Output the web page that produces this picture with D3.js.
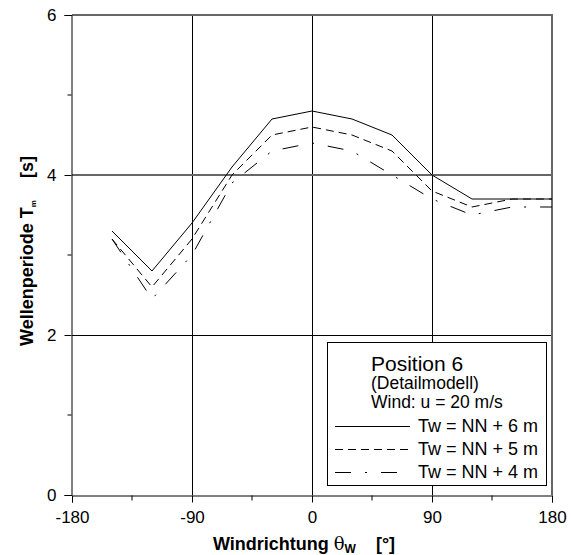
<!DOCTYPE html>
<html>
<head>
<meta charset="utf-8">
<script src="https://cdn.jsdelivr.net/npm/d3@7"></script>
<style>
  body { margin: 0; background: white; }
  svg { font-family: "Liberation Sans", Arial, sans-serif; }
  .line { fill: none; stroke: black; stroke-width: 1; }
</style>
</head>
<body>
<svg></svg>
<script>
const margins = { top: 15, bottom: 60, left: 72, right: 22 }
const width = 480
const height = 480

const directions = [-150, -120, -90, -60, -30, 0, 30, 60, 90, 120, 150, 180]
const tw6 = [3.3, 2.8, 3.4, 4.1, 4.7, 4.8, 4.7, 4.5, 4.0, 3.7, 3.7, 3.7]
const tw5 = [3.2, 2.6, 3.2, 4.0, 4.5, 4.6, 4.5, 4.3, 3.8, 3.6, 3.7, 3.7]
const tw4 = [3.2, 2.45, 3.0, 3.9, 4.3, 4.4, 4.3, 4.0, 3.7, 3.5, 3.6, 3.6]
const seriesNames = ["Tw = NN + 6 m", "Tw = NN + 5 m", "Tw = NN + 4 m"]
const dashes = [null, "8,5", "16,14,2,14"]

const xTicks = [-180, -90, 0, 90, 180]
const xMinor = [-135, -45, 45, 135]
const yTicks = [0, 2, 4, 6]
const yMinor = [1, 3, 5]

let svg = d3.select("svg")
  .attr("width", 574)
  .attr("height", 555)

let x_scale = d3.scaleLinear([-180, 180], [margins.left, margins.left + width])
let y_scale = d3.scaleLinear([0, 6], [margins.top + height, margins.top])

// grid
let grid = svg.append("g")
grid.selectAll(".vgrid").data([-90, 0, 90]).join("line")
  .attr("x1", d => Math.round(x_scale(d)) + 0.5)
  .attr("x2", d => Math.round(x_scale(d)) + 0.5)
  .attr("y1", y_scale(6))
  .attr("y2", y_scale(0))
  .style("stroke", "black")
grid.selectAll(".hgrid").data([2, 4]).join("line")
  .attr("x1", x_scale(-180))
  .attr("x2", x_scale(180))
  .attr("y1", d => Math.round(y_scale(d)) + (d == 4 ? 0 : 0.5))
  .attr("y2", d => Math.round(y_scale(d)) + (d == 4 ? 0 : 0.5))
  .style("stroke", d => d == 4 ? "#666" : "black")
  .style("stroke-width", d => d == 4 ? 2 : 1)

// frame top / right
svg.append("path")
  .attr("d", `M${x_scale(-180)},${y_scale(6)}H${x_scale(180)}V${y_scale(0)}`)
  .style("fill", "none")
  .style("stroke", "#666")
  .style("stroke-width", 2)

// axes
let xAxis = svg.append("g")
  .attr("transform", `translate(0,${Math.round(y_scale(0)) + 0.5})`)
  .call(d3.axisBottom(x_scale).tickValues(xTicks).tickSize(7).tickPadding(8).tickFormat(d => String(d)))
xAxis.selectAll(".minor").data(xMinor).join("line")
  .attr("x1", d => x_scale(d)).attr("x2", d => x_scale(d))
  .attr("y1", 0).attr("y2", 5)
  .style("stroke", "black")

let yAxis = svg.append("g")
  .attr("transform", `translate(${Math.round(x_scale(-180)) - 0.5},0)`)
  .call(d3.axisLeft(y_scale).tickValues(yTicks).tickSize(7).tickPadding(8).tickFormat(d => String(d)))
yAxis.selectAll(".minor").data(yMinor).join("line")
  .attr("x1", 0).attr("x2", -4)
  .attr("y1", d => y_scale(d)).attr("y2", d => y_scale(d))
  .style("stroke", "black")

svg.selectAll(".domain").style("stroke", "black")
svg.selectAll(".tick text")
  .style("font-family", "Liberation Sans, Arial, sans-serif")
  .style("font-size", "17px")
  .style("fill", "black")

// axis titles
let xTitle = svg.append("text")
  .attr("x", 304)
  .attr("y", 550)
  .attr("text-anchor", "middle")
  .style("font-size", "18px")
  .style("font-weight", "bold")
xTitle.append("tspan").text("Windrichtung ")
xTitle.append("tspan").style("font-weight", "normal").style("font-family", "DejaVu Serif, serif").text("θ")
xTitle.append("tspan").attr("dy", 3).style("font-size", "12px").text("W")
xTitle.append("tspan").attr("dy", -3).attr("dx", 20).text("[°]")

let yTitle = svg.append("text")
  .attr("transform", "translate(33,251) rotate(-90)")
  .attr("text-anchor", "middle")
  .style("font-size", "18px")
  .style("font-weight", "bold")
yTitle.append("tspan").text("Wellenperiode T")
yTitle.append("tspan").attr("dy", 3).style("font-size", "8px").text("m")
yTitle.append("tspan").attr("dy", -3).attr("dx", 22).text("[s]")

// lines
let line = d3.line()
  .x((d, i) => x_scale(directions[i]))
  .y(d => y_scale(d))

;[tw6, tw5, tw4].forEach((s, i) => {
  svg.append("path")
    .datum(s)
    .classed("line", true)
    .attr("d", line)
    .style("stroke-dasharray", dashes[i])
})

// legend
let legend = svg.append("g")
legend.append("rect")
  .attr("x", 327.5).attr("y", 342.5)
  .attr("width", 219).attr("height", 143)
  .style("fill", "white")
  .style("stroke", "black")
legend.append("text")
  .attr("x", 371).attr("y", 371)
  .style("font-size", "21px")
  .text("Position 6")
legend.append("text")
  .attr("x", 371).attr("y", 389)
  .style("font-size", "17.5px")
  .text("(Detailmodell)")
legend.append("text")
  .attr("x", 371).attr("y", 408)
  .style("font-size", "17.5px")
  .text("Wind: u = 20 m/s")

seriesNames.forEach((name, i) => {
  let y = 426 + i * 23
  legend.append("line")
    .classed("line", true)
    .attr("x1", 335).attr("x2", 410)
    .attr("y1", y + 0.5).attr("y2", y + 0.5)
    .style("stroke-dasharray", dashes[i])
  legend.append("text")
    .attr("x", 418).attr("y", y + 6)
    .style("font-size", "18px")
    .text(name)
})
</script>
</body>
</html>
